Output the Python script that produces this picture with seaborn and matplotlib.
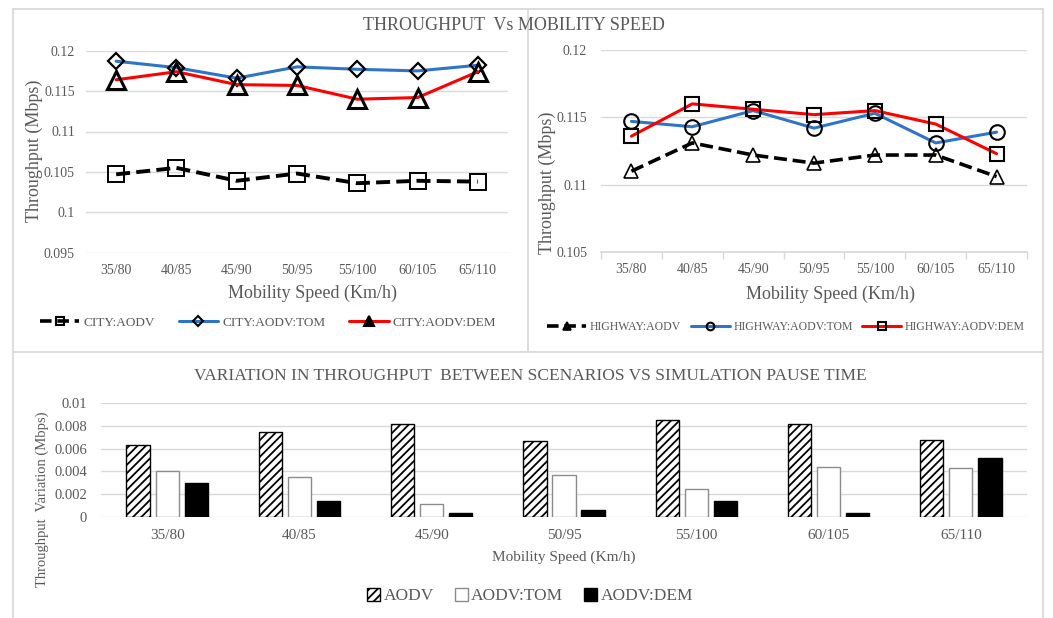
import matplotlib
matplotlib.use("Agg")
import matplotlib.pyplot as plt
from matplotlib.lines import Line2D
from matplotlib.patches import Patch
from matplotlib.ticker import FuncFormatter, FixedLocator, MultipleLocator
import pandas as pd
import seaborn as sns

# ---- data -------------------------------------------------------------
speeds = ["35/80", "40/85", "45/90", "50/95", "55/100", "60/105", "65/110"]

city_aodv = [0.1047, 0.1055, 0.1039, 0.1048, 0.1036, 0.1039, 0.1038]
city_tom = [0.1187, 0.1179, 0.1166, 0.1180, 0.1177, 0.1175, 0.1182]
city_dem = [0.1164, 0.1174, 0.1158, 0.1157, 0.1140, 0.1142, 0.1174]

highway_aodv = [0.1110, 0.1131, 0.1122, 0.1116, 0.1122, 0.1122, 0.1106]
highway_tom = [0.1147, 0.1143, 0.1155, 0.1142, 0.1153, 0.1131, 0.1139]
highway_dem = [0.1136, 0.1160, 0.1156, 0.1152, 0.1155, 0.1145, 0.1123]

var_aodv = [0.0063, 0.0075, 0.0082, 0.0067, 0.0085, 0.0082, 0.0068]
var_tom = [0.0040, 0.0035, 0.0011, 0.0037, 0.0024, 0.0044, 0.0043]
var_dem = [0.0030, 0.0014, 0.0003, 0.0006, 0.0014, 0.0003, 0.0052]

protocols = ["AODV", "AODV:TOM", "AODV:DEM"]

# ---- style ------------------------------------------------------------
sns.set_theme(style="white")
plt.rcParams["font.family"] = ["Liberation Serif", "DejaVu Serif"]
plt.rcParams["hatch.linewidth"] = 1.3
TXT = "#595959"
GRID = "#D9D9D9"
BLUE = "#2E75C6"
RED = "#FF0000"

W, H = 1053, 618
fig = plt.figure(figsize=(W / 100, H / 100), dpi=100)


def fx(px):
    return px / W


def fy(py):
    return 1 - py / H


def axes_px(x0, y0, x1, y1):
    return fig.add_axes([fx(x0), fy(y1), fx(x1) - fx(x0), fy(y0) - fy(y1)])


fmt = FuncFormatter(lambda v, p: f"{round(v, 5):g}")


def style_axes(ax, ylo, yhi, step, ysize, xsize, xpad, ypad):
    ax.set_xlim(-0.5, len(speeds) - 0.5)
    ax.set_ylim(ylo, yhi)
    ax.yaxis.set_major_locator(MultipleLocator(step))
    ax.yaxis.set_major_formatter(fmt)
    ax.grid(axis="y", color=GRID, lw=1.0)
    ax.grid(axis="x", visible=False)
    for s in ax.spines.values():
        s.set_visible(False)
    ax.tick_params(axis="x", length=0, labelsize=xsize, labelcolor=TXT, pad=xpad)
    ax.tick_params(axis="y", length=0, labelsize=ysize, labelcolor=TXT, pad=ypad)
    ax.set_xlabel("")
    ax.set_ylabel("")
    ax.set_facecolor("none")


# ---- top left: city -----------------------------------------------------
ax1 = axes_px(86, 50.7, 508, 252.7)
sns.lineplot(x=speeds, y=city_aodv, ax=ax1, sort=False, color="black",
             lw=2.8, linestyle=(0, (3.6, 1.6)), marker="s", markersize=11,
             markerfacecolor="none", markeredgecolor="black", markeredgewidth=1.4)
sns.lineplot(x=speeds, y=city_tom, ax=ax1, sort=False, color=BLUE,
             lw=2.2, marker="D", markersize=8.5,
             markerfacecolor="none", markeredgecolor="black", markeredgewidth=1.6)
sns.lineplot(x=speeds, y=city_dem, ax=ax1, sort=False, color=RED,
             lw=2.2, marker="^", markersize=12.5,
             markerfacecolor="none", markeredgecolor="black", markeredgewidth=2.2)
style_axes(ax1, 0.095, 0.12, 0.005, 10, 10, 8, 8)

# ---- top right: highway -----------------------------------------------
ax2 = axes_px(601, 50, 1027, 252)
sns.lineplot(x=speeds, y=highway_aodv, ax=ax2, sort=False, color="black",
             lw=2.6, linestyle=(0, (3.6, 1.6)), marker="^", markersize=10,
             markerfacecolor="none", markeredgecolor="black", markeredgewidth=1.2)
sns.lineplot(x=speeds, y=highway_tom, ax=ax2, sort=False, color=BLUE,
             lw=2.2, marker="o", markersize=10.5,
             markerfacecolor="none", markeredgecolor="black", markeredgewidth=1.5)
sns.lineplot(x=speeds, y=highway_dem, ax=ax2, sort=False, color=RED,
             lw=2.2, marker="s", markersize=10,
             markerfacecolor="none", markeredgecolor="black", markeredgewidth=1.5)
style_axes(ax2, 0.105, 0.12, 0.005, 10, 10, 8, 10)
ax2.spines["bottom"].set_visible(True)
ax2.spines["bottom"].set_color(GRID)
ax2.xaxis.set_minor_locator(FixedLocator([i - 0.5 for i in range(len(speeds) + 1)]))
ax2.tick_params(axis="x", which="minor", length=5, width=1, color=GRID,
                direction="out", bottom=True)

# ---- bottom: variation bars --------------------------------------------
ax3 = axes_px(101, 403.3, 1027, 516.7)
df = pd.DataFrame({
    "speed": speeds * 3,
    "variation": var_aodv + var_tom + var_dem,
    "protocol": sum([[p] * len(speeds) for p in protocols], []),
})
sns.barplot(data=df, x="speed", y="variation", hue="protocol",
            hue_order=protocols, palette=["white", "white", "black"],
            width=0.66, gap=0.2, errorbar=None, saturation=1,
            legend=False, ax=ax3)
edge = ["black", "#8C8C8C", "black"]
for i, cont in enumerate(ax3.containers):
    for bar in cont:
        bar.set_edgecolor(edge[i])
        bar.set_linewidth(1.0)
        if i == 0:
            bar.set_hatch("////")
        bar.set_zorder(3)
style_axes(ax3, 0, 0.01, 0.002, 10.5, 11, 9, 10)

# ---- text -----------------------------------------------------------------
fig.text(fx(514), fy(25), "THROUGHPUT  Vs MOBILITY SPEED", ha="center",
         va="center", fontsize=13, color=TXT)
fig.text(fx(313), fy(293), "Mobility Speed (Km/h)", ha="center", va="center",
         fontsize=13, color=TXT)
fig.text(fx(831), fy(294), "Mobility Speed (Km/h)", ha="center", va="center",
         fontsize=13, color=TXT)
fig.text(fx(34), fy(151), "Throughput (Mbps)", ha="center", va="center",
         rotation=90, fontsize=13, color=TXT)
fig.text(fx(547), fy(183), "Throughput (Mbps)", ha="center", va="center",
         rotation=90, fontsize=13, color=TXT)

fig.text(fx(530), fy(376), "VARIATION IN THROUGHPUT  BETWEEN SCENARIOS VS SIMULATION PAUSE TIME",
         ha="center", va="center", fontsize=12.5, color=TXT)
fig.text(fx(564), fy(557), "Mobility Speed (Km/h)", ha="center", va="center",
         fontsize=11, color=TXT)
fig.text(fx(42), fy(499), "Throughput  Variation (Mbps)", ha="center",
         va="center", rotation=90, fontsize=10.5, color=TXT)

# ---- legends --------------------------------------------------------------
dash = (0, (3.2, 1.6))
h_city = [
    Line2D([], [], color="black", lw=2.6, linestyle=dash, marker="s", ms=6,
           mfc="none", mec="black", mew=1.5),
    Line2D([], [], color=BLUE, lw=2.2, marker="D", ms=5.5,
           mfc="none", mec="black", mew=1.5),
    Line2D([], [], color=RED, lw=2.2, marker="^", ms=7,
           mfc="black", mec="black", mew=1.5),
]
fig.legend(h_city, ["CITY:AODV", "CITY:AODV:TOM", "CITY:AODV:DEM"],
           loc="center", bbox_to_anchor=(fx(268), fy(323)), ncol=3,
           frameon=False, fontsize=9.5, handlelength=3.0, handletextpad=0.3,
           columnspacing=1.8, labelcolor=TXT)

h_hw = [
    Line2D([], [], color="black", lw=2.6, linestyle=dash, marker="^", ms=6,
           mfc="black", mec="black", mew=1.2),
    Line2D([], [], color=BLUE, lw=2.2, marker="o", ms=5.5,
           mfc="none", mec="black", mew=1.5),
    Line2D([], [], color=RED, lw=2.2, marker="s", ms=5.5,
           mfc="none", mec="black", mew=1.5),
]
fig.legend(h_hw, ["HIGHWAY:AODV", "HIGHWAY:AODV:TOM", "HIGHWAY:AODV:DEM"],
           loc="center", bbox_to_anchor=(fx(786), fy(327)), ncol=3,
           frameon=False, fontsize=8.5, handlelength=3.3, handletextpad=0.3,
           columnspacing=0.8, labelcolor=TXT)

h_bar = [
    Patch(facecolor="white", edgecolor="black", hatch="////", lw=1.0),
    Patch(facecolor="white", edgecolor="#8C8C8C", lw=1.0),
    Patch(facecolor="black", edgecolor="black", lw=1.0),
]
fig.legend(h_bar, protocols, loc="center", bbox_to_anchor=(fx(530), fy(596)),
           ncol=3, frameon=False, fontsize=12.5, handlelength=0.75,
           handleheight=0.75, handletextpad=0.2, columnspacing=1.2,
           labelcolor=TXT)

# ---- panel frames ---------------------------------------------------------
xl, xr, xm = fx(13), fx(1043), fx(528)
yt, ym = fy(9), fy(352)
for xs, ys in [((xl, xr), (yt, yt)), ((xl, xl), (yt, 0)), ((xr, xr), (yt, 0)),
               ((xm, xm), (yt, ym)), ((xl, xr), (ym, ym))]:
    fig.add_artist(Line2D(xs, ys, transform=fig.transFigure, color=GRID, lw=1.3))

fig.savefig("out.png", dpi=100)
